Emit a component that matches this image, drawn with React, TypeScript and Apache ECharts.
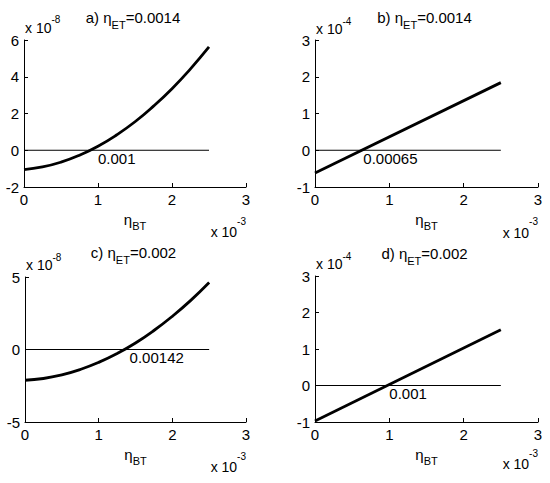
import { useEffect, useRef } from 'react';
import * as echarts from 'echarts';

const panelTags = ['a)', 'b)', 'c)', 'd)'];
const etaET = ['0.0014', '0.0014', '0.002', '0.002'];
const yPowers = ['-8', '-4', '-8', '-4'];
const yMins = [-2, -1, -5, -1];
const yMaxs = [6, 3, 5, 3];
const ySteps = [2, 1, 5, 1];
const xPower = '-3';
const xMin = 0;
const xMax = 3;
const xStep = 1;

// eta_BT in units of 1e-3
const etaBT = [0, 0.25, 0.5, 0.75, 1, 1.25, 1.5, 1.75, 2, 2.25, 2.5];
const curveA = [-1.05, -0.91, -0.65, -0.27, 0.22, 0.83, 1.55, 2.4, 3.35, 4.43, 5.62];
const curveC = [-2.12, -2.0, -1.75, -1.38, -0.89, -0.28, 0.45, 1.31, 2.29, 3.39, 4.62];
const etaBTEnds = [0, 2.5];
const lineB = [-0.62, 1.84];
const lineD = [-0.97, 1.53];
const rootLabels = ['0.001', '0.00065', '0.00142', '0.001'];

const panels: [number[], number[]][] = [
  [etaBT, curveA],
  [etaBTEnds, lineB],
  [etaBT, curveC],
  [etaBTEnds, lineD],
];

const FONT = '"Liberation Sans", Arial, sans-serif';

// plot boxes, in pixels
const boxes = [
  { left: 24, top: 40, width: 222, height: 147 },
  { left: 315, top: 40, width: 223, height: 147 },
  { left: 25, top: 277, width: 221, height: 145 },
  { left: 315, top: 276, width: 223, height: 146 },
];
const titleY = [4.5, 4.5, 239.5, 240];
const powerY = [14.5, 16, 252, 251];
const xPowerY = [216, 216.5, 451, 448];

export default function App() {
  const chartRef = useRef<HTMLDivElement>(null);

  useEffect(() => {
    if (!chartRef.current) return;
    const chart = echarts.init(chartRef.current, undefined, { renderer: 'svg' });

    const titleRich = {
      m: { fontSize: 15, lineHeight: 26, verticalAlign: 'middle', fontFamily: FONT, fill: '#000' },
      s: { fontSize: 11, lineHeight: 11, verticalAlign: 'bottom', fontFamily: FONT, fill: '#000' },
    };
    const powRich = {
      m: { fontSize: 14, lineHeight: 26, verticalAlign: 'middle', fontFamily: FONT, fill: '#000' },
      p: { fontSize: 10, lineHeight: 10, verticalAlign: 'top', fontFamily: FONT, fill: '#000' },
    };
    const xPowRich = {
      m: { fontSize: 14, lineHeight: 32, verticalAlign: 'middle', fontFamily: FONT, fill: '#000' },
      p: { fontSize: 10, lineHeight: 10, verticalAlign: 'top', fontFamily: FONT, fill: '#000' },
    };

    const graphic: any[] = [];
    boxes.forEach((b, i) => {
      graphic.push({
        type: 'text',
        x: b.left + b.width / 2 - 2,
        y: titleY[i],
        silent: true,
        style: {
          text: `{m|${panelTags[i]} η}{s|ET}{m|=${etaET[i]}}`,
          align: 'center',
          verticalAlign: 'top',
          fill: '#000',
          rich: titleRich,
        },
      });
      graphic.push({
        type: 'text',
        x: b.left + 1,
        y: powerY[i],
        silent: true,
        style: {
          text: `{m|x 10}{p|${yPowers[i]}}`,
          align: 'left',
          verticalAlign: 'top',
          fill: '#000',
          rich: powRich,
        },
      });
      graphic.push({
        type: 'text',
        x: b.left + b.width,
        y: xPowerY[i],
        silent: true,
        style: {
          text: `{m|x 10}{p|${xPower}}`,
          align: 'right',
          verticalAlign: 'top',
          fill: '#000',
          rich: xPowRich,
        },
      });
    });

    const axisCommon = {
      axisLine: { onZero: false, lineStyle: { color: '#000', width: 1 } },
      axisTick: { inside: true, length: 4, lineStyle: { color: '#000' } },
      axisLabel: { color: '#000', fontSize: 15, fontFamily: FONT, margin: 5 },
      splitLine: { show: false },
    };

    const series: any[] = [];
    panels.forEach(([xs, ys], i) => {
      series.push({
        type: 'line',
        xAxisIndex: i,
        yAxisIndex: i,
        data: etaBTEnds.map((x) => [x, 0]),
        showSymbol: false,
        lineStyle: { color: '#000', width: 1 },
        silent: true,
      });
      series.push({
        type: 'line',
        xAxisIndex: i,
        yAxisIndex: i,
        data: xs.map((x, k) => [x, ys[k]]),
        smooth: true,
        showSymbol: false,
        lineStyle: { color: '#000', width: 2.8 },
        silent: true,
      });
      series.push({
        type: 'scatter',
        xAxisIndex: i,
        yAxisIndex: i,
        data: [[parseFloat(rootLabels[i]) * 1000, 0]],
        symbolSize: 0,
        itemStyle: { color: '#000' },
        label: {
          show: true,
          formatter: rootLabels[i],
          position: 'right',
          distance: 0,
          offset: [0, 8],
          color: '#000',
          opacity: 1,
          fontSize: 15,
          fontFamily: FONT,
        },
        silent: true,
      });
    });

    chart.setOption({
      animation: false,
      backgroundColor: '#fff',
      grid: boxes.map((b) => ({ ...b, containLabel: false })),
      xAxis: boxes.map((_, i) => ({
        type: 'value',
        gridIndex: i,
        min: xMin,
        max: xMax,
        interval: xStep,
        ...axisCommon,
        name: '{m|η}{s|BT}',
        nameLocation: 'middle',
        nameGap: 20,
        nameTextStyle: {
          rich: {
            m: { fontSize: 15, lineHeight: 24, verticalAlign: 'middle', fontFamily: FONT, color: '#000' },
            s: { fontSize: 11, lineHeight: 10, verticalAlign: 'bottom', fontFamily: FONT, color: '#000' },
          },
        },
      })),
      yAxis: boxes.map((_, i) => ({
        type: 'value',
        gridIndex: i,
        min: yMins[i],
        max: yMaxs[i],
        interval: ySteps[i],
        ...axisCommon,
      })),
      series,
      graphic,
    });

    const handleResize = () => chart.resize();
    window.addEventListener('resize', handleResize);
    return () => {
      window.removeEventListener('resize', handleResize);
      chart.dispose();
    };
  }, []);

  return (
    <div
      ref={chartRef}
      style={{ position: 'absolute', left: 0, top: 0, width: 550, height: 483 }}
    />
  );
}
